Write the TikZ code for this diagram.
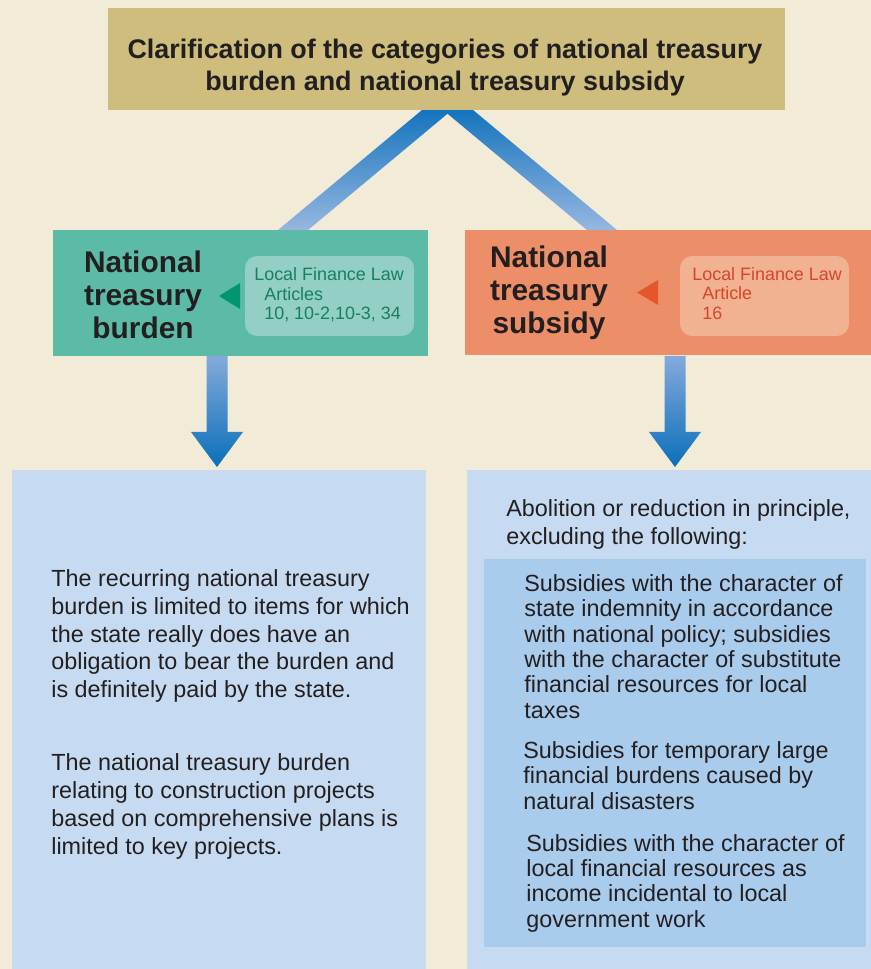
\documentclass[tikz,border=0pt]{standalone}
\usepackage{fontspec}
\setmainfont{Liberation Sans}
\usetikzlibrary{calc}
\definecolor{cream}{RGB}{242,235,216}
\definecolor{khaki}{RGB}{207,189,126}
\definecolor{teal}{RGB}{91,187,166}
\definecolor{tealpale}{RGB}{147,207,196}
\definecolor{tealtext}{RGB}{22,128,96}
\definecolor{tealmark}{RGB}{0,149,108}
\definecolor{salmon}{RGB}{236,142,103}
\definecolor{salmonpale}{RGB}{240,178,144}
\definecolor{salmontext}{RGB}{216,69,42}
\definecolor{salmonmark}{RGB}{229,86,42}
\definecolor{skypale}{RGB}{198,219,241}
\definecolor{skymid}{RGB}{170,204,236}
\definecolor{arrowdark}{RGB}{10,111,186}
\definecolor{arrowlight}{RGB}{132,170,219}
\definecolor{ink}{RGB}{35,31,32}

\begin{document}
\begin{tikzpicture}[x=0.02cm, y=-0.02cm,
    panel/.style={rectangle, inner sep=0pt, outer sep=0pt},
    lawbox/.style={rectangle, rounded corners=0.24cm, inner sep=0pt, minimum width=3.38cm, minimum height=1.6cm},
    headline/.style={align=center, text=ink, font=\bfseries\fontsize{17}{18.8}\selectfont},
    lawtext/.style={anchor=west, align=left, inner sep=0pt, font=\fontsize{10.2}{11.1}\selectfont},
    body/.style={anchor=west, align=left, inner sep=0pt, text=ink, font=\fontsize{13.3}{15.9}\selectfont},
    item/.style={body, font=\fontsize{13.3}{14.4}\selectfont},
    vleg/.style={top color=arrowdark, bottom color=arrowlight!85!white},
    downarrow/.style={top color=arrowlight, bottom color=arrowdark}]

    % Canvas
    \useasboundingbox (0,0) rectangle (871,969);
    \fill[cream] (0,0) rectangle (871,969);

    % Boxes
    \node[panel, fill=teal, minimum width=7.5cm, minimum height=2.52cm] (green) at (240.5,293) {};
    \node[panel, fill=salmon, minimum width=8.12cm, minimum height=2.5cm] (orange) at (668,292.5) {};
    \node[lawbox, fill=tealpale] (greenlaw) at (329.5,296) {};
    \node[lawbox, fill=salmonpale] (orangelaw) at (764.5,296) {};
    \node[panel, fill=skypale, minimum width=8.28cm, minimum height=9.98cm] (leftbox) at (219,719.5) {};
    \node[panel, fill=skypale, minimum width=8.08cm, minimum height=9.98cm] (rightbox) at (669,719.5) {};
    \node[panel, fill=skymid, minimum width=7.64cm, minimum height=7.76cm] (excl) at (675,753) {};

    % Legs from the title
    \shade[vleg] (434,100) -- (464,100) -- ($(green.north)+(67.5,0)$) -- ($(green.north)+(37.5,0)$) -- cycle;
    \shade[vleg] (461,100) -- (431,100) -- ($(orange.north)+(-81,0)$) -- ($(orange.north)+(-51,0)$) -- cycle;

    % Title
    \node[panel, fill=khaki, minimum width=13.54cm, minimum height=2.04cm] (title) at (446.5,59) {};
    \node[align=center, text=ink, font=\bfseries\fontsize{15.3}{18.2}\selectfont] (titletext) at (445,67.5)
        {Clarification of the categories of national treasury\\burden and national treasury subsidy};

    % Down arrows
    \coordinate (la) at ($(green.south)+(-23.5,0)$);
    \coordinate (ra) at ($(orange.south)+(7,1)$);
    \shade[downarrow] ($(la)+(-10.5,0)$) -- ($(la)+(10.5,0)$) -- ($(la)+(10.5,76)$) -- ($(la)+(26,76)$)
        -- ($(la |- leftbox.north)+(0,-3)$) -- ($(la)+(-26,76)$) -- ($(la)+(-10.5,76)$) -- cycle;
    \shade[downarrow] ($(ra)+(-10.5,0)$) -- ($(ra)+(10.5,0)$) -- ($(ra)+(10.5,76)$) -- ($(ra)+(26,76)$)
        -- ($(ra |- rightbox.north)+(0,-3)$) -- ($(ra)+(-26,76)$) -- ($(ra)+(-10.5,76)$) -- cycle;

    % Category headings
    \node[headline] (burden) at (143,294.5) {National\\treasury\\burden};
    \node[headline] (subsidy) at (549,293) {National\\treasury\\subsidy};

    % Pointers to the law
    \fill[tealmark] (219,296) -- (240,283) -- (240,309) -- cycle;
    \fill[salmonmark] (637,292.5) -- (658,280) -- (658,305) -- cycle;
    \node[lawtext, text=tealtext] (greenref) at (254,295)
        {Local Finance Law\\\hspace*{5.7pt}Articles\\\hspace*{5.7pt}10, 10-2,10-3, 34};
    \node[lawtext, text=salmontext] (orangeref) at (692,293.5)
        {Local Finance Law\\\hspace*{5.7pt}Article\\\hspace*{5.7pt}16};

    % Burden side
    \node[body] (recurring) at (51,636) {The recurring national treasury\\burden is limited to items for which\\the state really does have an\\obligation to bear the burden and\\is definitely paid by the state.};
    \node[body] (projects) at (51,806.5) {The national treasury burden\\relating to construction projects\\based on comprehensive plans is\\limited to key projects.};

    % Subsidy side
    \node[body] (abolition) at (506,524) {Abolition or reduction in principle,\\excluding the following:};
    \node[item] (indemnity) at (524,646.5) {Subsidies with the character of\\state indemnity in accordance\\with national policy; subsidies\\with the character of substitute\\financial resources for local\\taxes};
    \node[item] (disaster) at (523,775.5) {Subsidies for temporary large\\financial burdens caused by\\natural disasters};
    \node[item] (incidental) at (526,883) {Subsidies with the character of\\local financial resources as\\income incidental to local\\government work};

\end{tikzpicture}
\end{document}
